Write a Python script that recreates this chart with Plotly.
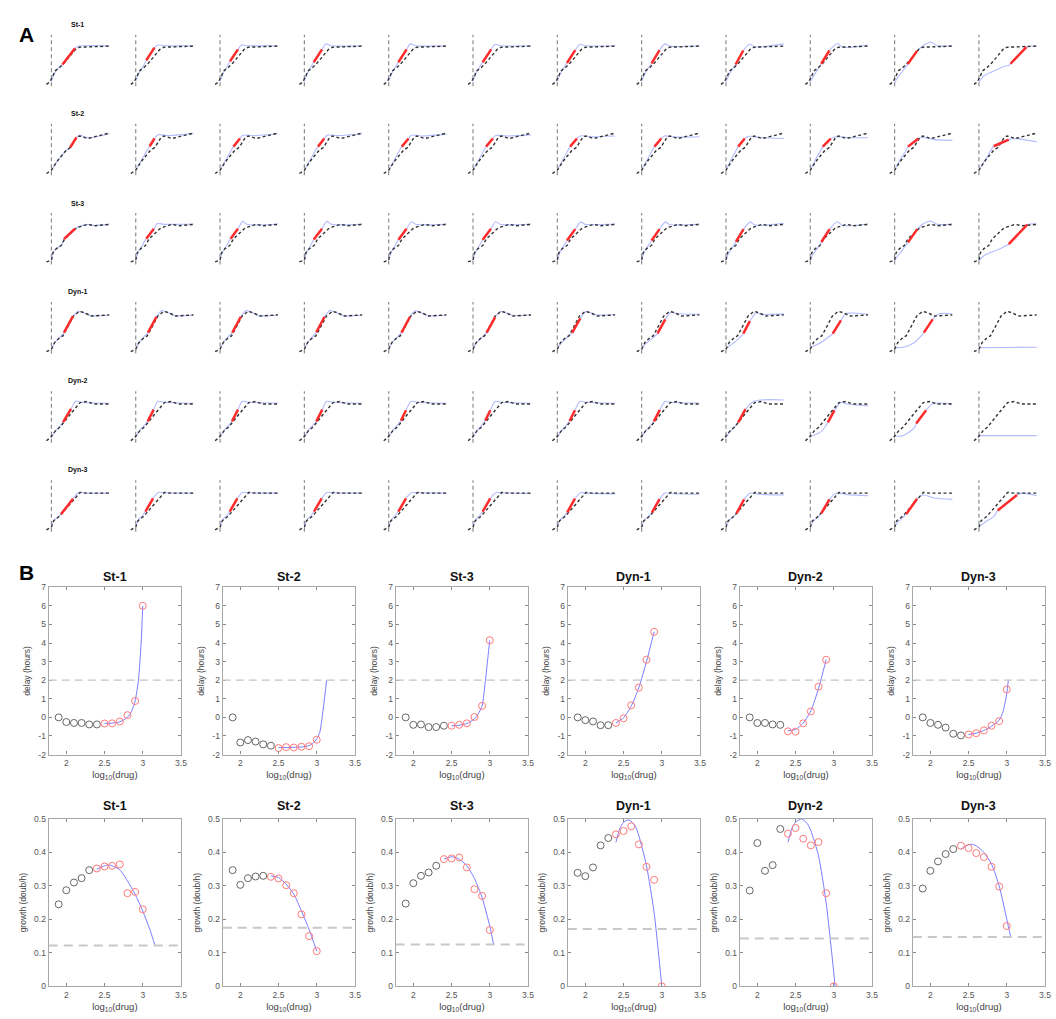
import plotly.graph_objects as go

W, H = 1056, 1019
FONT = "Liberation Sans, Arial, Helvetica, sans-serif"

# ---------------- Panel A data ----------------
ROW_NAMES = ["St-1", "St-2", "St-3", "Dyn-1", "Dyn-2", "Dyn-3"]

# measured (dashed) curves, one per strain: [t, y] points
REF = {
    "St-1": [[-1.75, -0.05], [-0.6, 0.01], [0.55, 0.18], [1.15, 0.31], [2.9, 0.41], [4.05, 0.49],
             [8.5, 0.9], [9.9, 0.96], [20.4, 0.99]],
    "St-2": [[-1.75, -0.05], [0, 0.04], [1.15, 0.18], [2.3, 0.31], [5.2, 0.58], [6.75, 0.66],
             [8.9, 0.93], [9.9, 0.97], [12.8, 0.9], [20.4, 1.05]],
    "St-3": [[-1.75, -0.03], [0, 0.02], [0.55, 0.22], [1.75, 0.33], [3.5, 0.42], [4.65, 0.59],
             [8.5, 0.87], [9.9, 0.92], [12.8, 0.99], [15.1, 0.95], [20.4, 0.99]],
    "Dyn-1": [[-1.75, -0.05], [0, 0.02], [1.15, 0.2], [2.9, 0.33], [4.05, 0.38], [4.65, 0.47],
              [7.8, 0.92], [9.9, 1.05], [11.6, 1.01], [14, 0.92], [20.4, 0.95]],
    "Dyn-2": [[-1.75, -0.05], [-0.35, 0.04], [1.4, 0.22], [3.1, 0.33], [6.5, 0.66], [10.1, 0.99],
              [12.5, 1.02], [14.8, 0.95], [20.4, 0.95]],
    "Dyn-3": [[-1.75, -0.05], [0, 0.03], [0.8, 0.2], [2.5, 0.3], [3.7, 0.4], [7, 0.7], [10.1, 0.97],
              [12.5, 0.95], [20.4, 0.95]],
}

# model (blue) curves, 12 drug levels per strain
BLUE = {
    "St-1": [
        [[0, 0.03], [1, 0.24], [2.5, 0.4], [3.9, 0.49], [8.3, 0.93], [9.5, 0.99], [11, 1.0], [20.4, 1.0]],
        [[0, 0.03], [1, 0.24], [2.5, 0.42], [3.7, 0.6], [6.6, 0.95], [8, 1.02], [10, 1.0], [20.4, 1.0]],
        [[0, 0.03], [1, 0.24], [2.4, 0.42], [3.5, 0.58], [6.3, 0.9], [7.5, 1.02], [9.5, 1.0], [20.4, 1.0]],
        [[0, 0.03], [1, 0.24], [2.3, 0.42], [3.3, 0.55], [6.2, 0.9], [7.5, 1.05], [9.5, 1.0], [20.4, 1.0]],
        [[0, 0.03], [1, 0.24], [2.3, 0.42], [3.4, 0.55], [6.3, 0.9], [7.6, 1.05], [9.5, 1.0], [20.4, 1.0]],
        [[0, 0.03], [1, 0.24], [2.3, 0.42], [3.4, 0.55], [6.4, 0.9], [7.8, 1.04], [9.6, 1.0], [20.4, 1.0]],
        [[0, 0.03], [1, 0.23], [2.3, 0.41], [3.4, 0.53], [6.3, 0.88], [8, 1.04], [9.8, 1.0], [20.4, 1.0]],
        [[0, 0.03], [1, 0.22], [2.4, 0.4], [3.5, 0.52], [6.3, 0.88], [8.2, 1.05], [10, 0.99], [20.4, 1.0]],
        [[0, 0.03], [1, 0.2], [2.3, 0.37], [3.4, 0.49], [6.1, 0.87], [8.4, 1.04], [10, 0.97], [20.4, 1.05]],
        [[0, 0.02], [1.2, 0.18], [2.7, 0.37], [3.85, 0.51], [6.75, 0.87], [9.6, 1.06], [11.3, 0.96], [20.4, 1.02]],
        [[0, 0.0], [1.5, 0.18], [3, 0.33], [4.65, 0.5], [7.9, 0.86], [10, 1.0], [12.8, 1.1], [15, 1.0], [20.4, 1.0]],
        [[0, 0.0], [1.75, 0.18], [5.2, 0.31], [9.3, 0.45], [10.5, 0.46], [11.1, 0.51], [16.7, 0.96], [20.4, 1.0]],
    ],
    "St-2": [
        [[0, 0.04], [1.15, 0.18], [2.3, 0.31], [5.2, 0.57], [6.6, 0.66], [8.8, 0.93], [9.9, 0.99], [12.8, 0.92], [20.4, 1.03]],
        [[0, 0.04], [1.15, 0.2], [2.3, 0.35], [3.8, 0.55], [4.9, 0.69], [6.6, 0.9], [7.8, 1.0], [12, 0.98], [20.4, 1.04]],
        [[0, 0.04], [1.15, 0.2], [2.3, 0.35], [3.7, 0.55], [4.7, 0.68], [7, 0.9], [8, 0.99], [12, 0.98], [20.4, 1.03]],
        [[0, 0.04], [1.15, 0.2], [2.3, 0.35], [3.7, 0.55], [4.8, 0.68], [7, 0.9], [8, 0.99], [12, 0.98], [20.4, 1.03]],
        [[0, 0.04], [1.15, 0.2], [2.3, 0.36], [3.6, 0.55], [4.6, 0.68], [7, 0.9], [8, 0.99], [12, 0.97], [20.4, 1.02]],
        [[0, 0.04], [1.15, 0.2], [2.3, 0.36], [3.6, 0.55], [4.6, 0.68], [7, 0.9], [8, 0.98], [12, 0.97], [20.4, 1.0]],
        [[0, 0.04], [1.15, 0.21], [2.3, 0.37], [3.5, 0.55], [4.5, 0.68], [6.9, 0.9], [8, 0.97], [12, 0.95], [20.4, 0.97]],
        [[0, 0.04], [1.15, 0.21], [2.3, 0.37], [3.5, 0.55], [4.5, 0.68], [6.9, 0.9], [8, 0.97], [12, 0.94], [20.4, 0.95]],
        [[0, 0.04], [1.15, 0.22], [2.3, 0.4], [3.2, 0.52], [4.3, 0.68], [6.6, 0.9], [8, 0.96], [12, 0.93], [20.4, 0.9]],
        [[0, 0.04], [1.15, 0.22], [2.3, 0.4], [3.3, 0.52], [4.4, 0.68], [7.2, 0.9], [9, 0.95], [13, 0.93], [20.4, 0.92]],
        [[0, 0.04], [1.2, 0.22], [2.5, 0.4], [3.6, 0.52], [4.7, 0.68], [8.4, 0.9], [10, 0.93], [14, 0.87], [20.4, 0.85]],
        [[0, 0.04], [1.4, 0.22], [2.9, 0.4], [5.2, 0.69], [10.5, 0.87], [12.5, 0.9], [20.4, 0.81]],
    ],
    "St-3": [
        [[0, 0.02], [0.55, 0.22], [1.75, 0.33], [3.5, 0.42], [4.4, 0.59], [8.3, 0.87], [9.9, 0.94], [12.8, 0.99], [15.1, 0.96], [20.4, 0.99]],
        [[0, 0.02], [0.8, 0.22], [2, 0.38], [3.7, 0.6], [6.4, 0.87], [7.6, 1.01], [10, 0.99], [20.4, 1.0]],
        [[0, 0.02], [0.8, 0.22], [2, 0.38], [3.7, 0.6], [6.3, 0.87], [8.0, 1.07], [9.5, 0.99], [20.4, 1.0]],
        [[0, 0.02], [0.8, 0.22], [2, 0.38], [3.3, 0.58], [6.2, 0.87], [7.9, 1.07], [9.5, 0.99], [20.4, 1.0]],
        [[0, 0.02], [0.8, 0.22], [2, 0.38], [3.4, 0.57], [6.3, 0.87], [8.0, 1.06], [9.6, 0.99], [20.4, 1.0]],
        [[0, 0.02], [0.8, 0.22], [2, 0.38], [3.4, 0.57], [6.3, 0.87], [8.0, 1.06], [9.6, 0.99], [20.4, 1.0]],
        [[0, 0.02], [0.8, 0.21], [2, 0.37], [3.4, 0.55], [6.3, 0.86], [8.2, 1.05], [9.8, 0.99], [20.4, 1.0]],
        [[0, 0.02], [0.8, 0.21], [2, 0.37], [3.5, 0.55], [6.3, 0.86], [8.3, 1.05], [10, 0.98], [20.4, 1.0]],
        [[0, 0.02], [0.9, 0.2], [2.2, 0.35], [3.5, 0.52], [6.2, 0.86], [8.5, 1.05], [10.2, 0.97], [20.4, 1.02]],
        [[0, 0.02], [1.0, 0.18], [2.6, 0.35], [3.9, 0.51], [6.8, 0.86], [9.6, 1.06], [11.3, 0.96], [20.4, 1.0]],
        [[0, 0.0], [1.5, 0.17], [3, 0.32], [4.7, 0.5], [8.0, 0.86], [10, 1.0], [12.6, 1.08], [15, 0.99], [20.4, 1.0]],
        [[0, 0.0], [2, 0.15], [5, 0.25], [8, 0.35], [9.8, 0.42], [10.5, 0.45], [17.0, 0.98], [20.4, 1.0]],
    ],
    "Dyn-1": [
        [[0, 0.02], [1.15, 0.2], [2.9, 0.34], [4.4, 0.47], [7.6, 0.92], [9.5, 1.05], [11.6, 1.0], [14, 0.93], [20.4, 0.95]],
        [[0, 0.02], [1.15, 0.2], [2.9, 0.36], [4.3, 0.47], [7.3, 0.9], [9.2, 1.07], [11.6, 1.0], [14, 0.93], [20.4, 0.95]],
        [[0, 0.02], [1.15, 0.2], [2.9, 0.36], [4.3, 0.47], [7.3, 0.9], [9.2, 1.07], [11.6, 1.0], [14, 0.93], [20.4, 0.95]],
        [[0, 0.02], [1.15, 0.2], [2.9, 0.36], [4.2, 0.48], [7.1, 0.9], [9.0, 1.07], [11.6, 1.0], [14, 0.93], [20.4, 0.95]],
        [[0, 0.02], [1.15, 0.19], [2.9, 0.34], [4.5, 0.47], [7.5, 0.9], [9.4, 1.06], [11.6, 1.0], [14, 0.93], [20.4, 0.95]],
        [[0, 0.02], [1.15, 0.19], [3.0, 0.33], [4.8, 0.47], [7.8, 0.89], [9.7, 1.05], [11.8, 1.0], [14, 0.94], [20.4, 0.95]],
        [[0, 0.02], [1.2, 0.18], [3.2, 0.32], [5.2, 0.46], [8.1, 0.86], [10.0, 1.04], [12, 1.0], [14, 0.95], [20.4, 0.96]],
        [[0, 0.02], [1.3, 0.16], [3.5, 0.3], [5.6, 0.45], [8.3, 0.83], [10.4, 1.03], [12.2, 0.99], [20.4, 0.97]],
        [[0, 0.03], [2, 0.15], [4.3, 0.29], [6.1, 0.44], [8.4, 0.78], [10.7, 1.01], [12, 0.97], [20.4, 0.98]],
        [[0, 0.06], [3.8, 0.2], [6.1, 0.33], [7.9, 0.44], [10.8, 0.8], [12.5, 0.98], [14, 1.0], [20.4, 0.97]],
        [[0, 0.06], [3.5, 0.08], [7, 0.2], [9.6, 0.4], [10.3, 0.47], [13.4, 0.83], [15.7, 0.98], [20.4, 0.98]],
        [[0, 0.06], [10, 0.065], [20.4, 0.07]],
    ],
    "Dyn-2": [
        [[0, 0.04], [1.4, 0.22], [3, 0.35], [4.1, 0.46], [6.9, 0.82], [8.6, 1.03], [10.5, 1.0], [20.4, 0.97]],
        [[0, 0.04], [1.4, 0.23], [3, 0.37], [4.2, 0.48], [6.3, 0.8], [7.8, 1.02], [10, 1.0], [20.4, 0.97]],
        [[0, 0.04], [1.4, 0.23], [3, 0.37], [4.2, 0.48], [6.3, 0.8], [7.8, 1.02], [10, 1.0], [20.4, 0.97]],
        [[0, 0.04], [1.4, 0.23], [3, 0.37], [4.2, 0.48], [6.3, 0.8], [7.8, 1.02], [10, 1.0], [20.4, 0.97]],
        [[0, 0.04], [1.4, 0.23], [3, 0.37], [4.3, 0.5], [6.1, 0.78], [7.8, 1.02], [10, 1.0], [20.4, 0.97]],
        [[0, 0.04], [1.4, 0.23], [3, 0.37], [4.3, 0.5], [6.1, 0.78], [7.8, 1.02], [10, 1.0], [20.4, 0.97]],
        [[0, 0.04], [1.4, 0.22], [3, 0.36], [4.3, 0.49], [6.2, 0.78], [7.9, 1.02], [10, 1.0], [20.4, 0.97]],
        [[0, 0.04], [1.4, 0.22], [3, 0.35], [4.3, 0.48], [6.4, 0.79], [8.2, 1.02], [10, 1.0], [20.4, 0.98]],
        [[0, 0.06], [1.5, 0.2], [3, 0.33], [4.3, 0.45], [6.9, 0.81], [10.1, 1.03], [20.4, 1.06]],
        [[0, 0.06], [3.8, 0.2], [5.4, 0.35], [6.2, 0.45], [8.5, 0.78], [10.8, 0.99], [13, 0.95], [20.4, 0.9]],
        [[0, 0.08], [2.9, 0.09], [7, 0.31], [7.6, 0.42], [11.1, 0.78], [13.4, 0.96], [20.4, 0.95]],
        [[0, 0.09], [10, 0.09], [20.4, 0.09]],
    ],
    "Dyn-3": [
        [[0, 0.03], [0.8, 0.2], [2.5, 0.31], [3.4, 0.38], [7.6, 0.8], [9.5, 0.97], [12, 0.95], [20.4, 0.95]],
        [[0, 0.03], [0.8, 0.21], [2.4, 0.35], [3.4, 0.45], [6.1, 0.81], [7.9, 0.97], [10, 0.96], [20.4, 0.95]],
        [[0, 0.03], [0.8, 0.21], [2.4, 0.35], [3.4, 0.45], [6.1, 0.81], [7.9, 0.97], [10, 0.96], [20.4, 0.95]],
        [[0, 0.03], [0.8, 0.21], [2.4, 0.35], [3.4, 0.45], [6.1, 0.81], [7.9, 0.97], [10, 0.96], [20.4, 0.95]],
        [[0, 0.03], [0.8, 0.21], [2.4, 0.35], [3.4, 0.45], [6.1, 0.81], [8.0, 0.96], [10, 0.96], [20.4, 0.95]],
        [[0, 0.03], [0.8, 0.21], [2.4, 0.35], [3.4, 0.45], [6.1, 0.81], [8.0, 0.96], [10, 0.96], [20.4, 0.94]],
        [[0, 0.03], [0.8, 0.2], [2.5, 0.33], [3.5, 0.43], [6.2, 0.8], [8.2, 0.96], [10, 0.95], [20.4, 0.93]],
        [[0, 0.03], [0.8, 0.2], [2.5, 0.33], [3.6, 0.42], [6.3, 0.79], [8.3, 0.96], [10, 0.94], [20.4, 0.92]],
        [[0, 0.03], [0.9, 0.19], [2.6, 0.31], [3.7, 0.4], [6.4, 0.78], [8.4, 0.95], [12, 0.92], [20.4, 0.9]],
        [[0, 0.03], [1.0, 0.18], [2.8, 0.3], [3.85, 0.4], [6.75, 0.78], [9, 0.95], [13, 0.91], [20.4, 0.88]],
        [[0, 0.03], [1.2, 0.17], [3.0, 0.29], [4.1, 0.38], [7.9, 0.8], [10, 0.9], [14, 0.82], [20.4, 0.78]],
        [[0, 0.04], [2.5, 0.18], [5.2, 0.31], [6.6, 0.48], [13.4, 0.9], [15.5, 0.95], [20.4, 0.88]],
    ],
}

# exponential-phase fits (red): [t0, y0, t1, y1]; None where no fit
RED = {
    "St-1": [[3.9, 0.49, 8.3, 0.93], [3.7, 0.6, 6.6, 0.95], [3.5, 0.58, 6.3, 0.9], [3.3, 0.55, 6.2, 0.9],
             [3.4, 0.55, 6.3, 0.9], [3.4, 0.55, 6.4, 0.9], [3.4, 0.53, 6.3, 0.88], [3.5, 0.52, 6.3, 0.88],
             [3.4, 0.49, 6.1, 0.87], [3.85, 0.51, 6.75, 0.87], [4.65, 0.5, 7.9, 0.86], [11.1, 0.51, 16.7, 0.96]],
    "St-2": [[6.6, 0.66, 8.8, 0.93], [4.9, 0.69, 6.6, 0.9], [4.7, 0.68, 7, 0.9], [4.8, 0.68, 7, 0.9],
             [4.6, 0.68, 7, 0.9], [4.6, 0.68, 7, 0.9], [4.5, 0.68, 6.9, 0.9], [4.5, 0.68, 6.9, 0.9],
             [4.3, 0.68, 6.6, 0.9], [4.4, 0.68, 7.2, 0.9], [4.7, 0.68, 8.4, 0.9], [5.2, 0.69, 10.5, 0.87]],
    "St-3": [[4.4, 0.59, 8.3, 0.87], [3.7, 0.6, 6.4, 0.87], [3.7, 0.6, 6.3, 0.87], [3.3, 0.58, 6.2, 0.87],
             [3.4, 0.57, 6.3, 0.87], [3.4, 0.57, 6.3, 0.87], [3.4, 0.55, 6.3, 0.86], [3.5, 0.55, 6.3, 0.86],
             [3.5, 0.52, 6.2, 0.86], [3.9, 0.51, 6.8, 0.86], [4.7, 0.5, 8.0, 0.86], [10.5, 0.45, 17.0, 0.98]],
    "Dyn-1": [[4.4, 0.47, 7.6, 0.92], [4.3, 0.47, 7.3, 0.9], [4.3, 0.47, 7.3, 0.9], [4.2, 0.48, 7.1, 0.9],
              [4.5, 0.47, 7.5, 0.9], [4.8, 0.47, 7.8, 0.89], [5.2, 0.46, 8.1, 0.86], [5.6, 0.45, 8.3, 0.83],
              [6.1, 0.44, 8.4, 0.78], [7.9, 0.44, 10.8, 0.8], [10.3, 0.47, 13.4, 0.83], None],
    "Dyn-2": [[4.1, 0.46, 6.9, 0.82], [4.2, 0.48, 6.3, 0.8], [4.2, 0.48, 6.3, 0.8], [4.2, 0.48, 6.3, 0.8],
              [4.3, 0.5, 6.1, 0.78], [4.3, 0.5, 6.1, 0.78], [4.3, 0.49, 6.2, 0.78], [4.3, 0.48, 6.4, 0.79],
              [4.3, 0.45, 6.9, 0.81], [6.2, 0.45, 8.5, 0.78], [7.6, 0.42, 11.1, 0.78], None],
    "Dyn-3": [[3.4, 0.38, 7.6, 0.8], [3.4, 0.45, 6.1, 0.81], [3.4, 0.45, 6.1, 0.81], [3.4, 0.45, 6.1, 0.81],
              [3.4, 0.45, 6.1, 0.81], [3.4, 0.45, 6.1, 0.81], [3.5, 0.43, 6.2, 0.8], [3.6, 0.42, 6.3, 0.79],
              [3.7, 0.4, 6.4, 0.78], [3.85, 0.4, 6.75, 0.78], [4.1, 0.38, 7.9, 0.8], [6.6, 0.48, 13.4, 0.9]],
}

# ---------------- Panel B data ----------------
LOGDRUG = [1.9, 2.0, 2.1, 2.2, 2.3, 2.4, 2.5, 2.6, 2.7, 2.8, 2.9, 3.0]

DELAY = {
    "St-1": [0.0, -0.25, -0.3, -0.3, -0.38, -0.38, -0.33, -0.32, -0.22, 0.12, 0.88, 6.0],
    "St-2": [0.0, -1.35, -1.22, -1.3, -1.45, -1.52, -1.65, -1.6, -1.62, -1.58, -1.55, -1.2],
    "St-3": [0.0, -0.4, -0.38, -0.52, -0.52, -0.45, -0.45, -0.4, -0.32, 0.02, 0.62, 4.15],
    "Dyn-1": [0.0, -0.15, -0.22, -0.42, -0.42, -0.3, -0.05, 0.65, 1.6, 3.1, 4.6],
    "Dyn-2": [0.0, -0.3, -0.3, -0.38, -0.4, -0.75, -0.77, -0.32, 0.32, 1.65, 3.1],
    "Dyn-3": [0.0, -0.3, -0.4, -0.55, -0.88, -0.97, -0.92, -0.85, -0.7, -0.45, -0.2, 1.5],
}
DELAY_FIT_START = {"St-1": 6, "St-2": 6, "St-3": 6, "Dyn-1": 5, "Dyn-2": 5, "Dyn-3": 6}
DELAY_CURVE = {
    "St-1": [[2.5, -0.32], [2.6, -0.31], [2.7, -0.24], [2.8, 0.0], [2.85, 0.3], [2.9, 0.88], [2.944, 2.0], [2.979, 4.0], [3.0, 6.0]],
    "St-2": [[2.5, -1.63], [2.6, -1.62], [2.7, -1.61], [2.8, -1.59], [2.9, -1.52], [2.95, -1.4], [3.0, -1.15], [3.04, -0.8], [3.09, 0.64], [3.13, 2.0]],
    "St-3": [[2.5, -0.45], [2.6, -0.42], [2.7, -0.33], [2.8, -0.08], [2.85, 0.2], [2.9, 0.62], [2.944, 2.0], [2.975, 3.2], [3.0, 4.15]],
    "Dyn-1": [[2.4, -0.3], [2.5, -0.02], [2.6, 0.6], [2.7, 1.6], [2.8, 3.0], [2.9, 4.6]],
    "Dyn-2": [[2.4, -0.72], [2.5, -0.65], [2.6, -0.3], [2.7, 0.35], [2.8, 1.55], [2.9, 3.1]],
    "Dyn-3": [[2.5, -0.92], [2.6, -0.85], [2.7, -0.7], [2.8, -0.48], [2.9, -0.15], [2.95, 0.3], [3.0, 1.3], [3.02, 2.0]],
}
DELAY_LIMIT = 2.0

GROWTH = {
    "St-1": [0.245, 0.287, 0.31, 0.323, 0.347, 0.352, 0.358, 0.36, 0.364, 0.278, 0.282, 0.23],
    "St-2": [0.347, 0.303, 0.323, 0.328, 0.33, 0.327, 0.322, 0.302, 0.278, 0.215, 0.15, 0.105],
    "St-3": [0.247, 0.308, 0.33, 0.34, 0.36, 0.38, 0.382, 0.385, 0.355, 0.29, 0.27, 0.168],
    "Dyn-1": [0.339, 0.329, 0.355, 0.421, 0.443, 0.454, 0.464, 0.478, 0.424, 0.357, 0.318, 0.0],
    "Dyn-2": [0.286, 0.428, 0.345, 0.362, 0.47, 0.456, 0.473, 0.441, 0.421, 0.431, 0.278, 0.0],
    "Dyn-3": [0.292, 0.345, 0.373, 0.395, 0.41, 0.42, 0.413, 0.398, 0.386, 0.357, 0.298, 0.18],
}
GROWTH_FIT_START = 5
GROWTH_CURVE = {
    "St-1": [[2.4, 0.35], [2.5, 0.36], [2.55, 0.362], [2.6, 0.36], [2.7, 0.348], [2.8, 0.315], [2.9, 0.275], [3.0, 0.225], [3.1, 0.165], [3.16, 0.122]],
    "St-2": [[2.4, 0.33], [2.5, 0.325], [2.6, 0.305], [2.7, 0.275], [2.8, 0.225], [2.9, 0.17], [3.0, 0.105]],
    "St-3": [[2.4, 0.38], [2.5, 0.387], [2.6, 0.38], [2.7, 0.36], [2.8, 0.322], [2.9, 0.265], [3.0, 0.18], [3.05, 0.125]],
    "Dyn-1": [[2.4, 0.43], [2.45, 0.47], [2.5, 0.49], [2.57, 0.497], [2.65, 0.48], [2.7, 0.45], [2.8, 0.36], [2.9, 0.22], [3.0, 0.0]],
    "Dyn-2": [[2.4, 0.43], [2.45, 0.47], [2.5, 0.49], [2.58, 0.5], [2.65, 0.487], [2.7, 0.465], [2.8, 0.39], [2.9, 0.25], [3.0, 0.04], [3.017, 0.0]],
    "Dyn-3": [[2.4, 0.41], [2.5, 0.423], [2.55, 0.424], [2.6, 0.42], [2.7, 0.4], [2.8, 0.365], [2.9, 0.3], [3.0, 0.2], [3.05, 0.148]],
}
GROWTH_LIMIT = {"St-1": 0.122, "St-2": 0.175, "St-3": 0.125, "Dyn-1": 0.171, "Dyn-2": 0.143, "Dyn-3": 0.147}

# ---------------- build ----------------
fig = go.Figure()
shapes = []
annotations = []
layout_axes = {}
counter = [0]


def new_axes(px0, px1, py0, py1, xcfg, ycfg):
    counter[0] += 1
    n = counter[0]
    sfx = "" if n == 1 else str(n)
    xa = dict(domain=[px0 / W, px1 / W], anchor="y" + sfx)
    ya = dict(domain=[1 - py1 / H, 1 - py0 / H], anchor="x" + sfx)
    xa.update(xcfg)
    ya.update(ycfg)
    layout_axes["xaxis" + sfx] = xa
    layout_axes["yaxis" + sfx] = ya
    return "x" + sfx, "y" + sfx


def label(text, px, py, size, color="#111"):
    annotations.append(dict(text=text, x=px / W, y=1 - py / H, xref="paper", yref="paper",
                            xanchor="center", yanchor="middle", showarrow=False,
                            font=dict(family=FONT, size=size, color=color)))


hidden_x = dict(visible=False, range=[-2, 20.4], fixedrange=True)
hidden_y = dict(visible=False, range=[-0.1, 1.3], fixedrange=True)

for r, name in enumerate(ROW_NAMES):
    top = 30 + r * 90
    bot = top + 52
    for c in range(12):
        left = 46 + c * 84.8
        xr, yr = new_axes(left, left + 64, top, bot, hidden_x, hidden_y)
        shapes.append(dict(type="line", xref=xr, yref=yr + " domain", x0=0, x1=0, y0=0, y1=1,
                           line=dict(color="#8c8c8c", width=1.2, dash="4px,3px"), layer="below"))
        bl = BLUE[name][c]
        fig.add_trace(go.Scatter(x=[p[0] for p in bl], y=[p[1] for p in bl], xaxis=xr, yaxis=yr,
                                 mode="lines", line=dict(color="#b4bcff", width=1.1, shape="spline", smoothing=0.8),
                                 hoverinfo="skip"))
        rf = REF[name]
        fig.add_trace(go.Scatter(x=[p[0] for p in rf], y=[p[1] for p in rf], xaxis=xr, yaxis=yr,
                                 mode="lines", line=dict(color="#333333", width=1.4, dash="3px,2.5px"),
                                 hoverinfo="skip"))
        rd = RED[name][c]
        if rd is not None:
            fig.add_trace(go.Scatter(x=[rd[0], rd[2]], y=[rd[1], rd[3]], xaxis=xr, yaxis=yr,
                                     mode="lines", line=dict(color="#ff2a2a", width=2.5),
                                     hoverinfo="skip"))
    label("<b>" + name + "</b>", 78, top - 10, 7)

label("<b>A</b>", 27, 30, 21, "#000")
label("<b>B</b>", 27, 573, 21, "#000")

B_LEFTS = [49, 224, 398, 571, 744, 918]
B_WIDTH = 133
GRID = "#a8a8a8"
TICKF = dict(family=FONT, size=8.5, color="#555")


def bx():
    return dict(range=[1.77, 3.5], tickvals=[2, 2.5, 3, 3.5], ticktext=["2", "2.5", "3", "3.5"],
                showline=True, linecolor=GRID, linewidth=1.2, mirror="ticks", ticks="inside", ticklen=3,
                tickcolor="#888", tickfont=TICKF, showgrid=False, zeroline=False, fixedrange=True,
                title=dict(text="log<sub>10</sub>(drug)", font=dict(family=FONT, size=9.5, color="#444"), standoff=4))


def by(rng, vals, txt, lab):
    return dict(range=rng, tickvals=vals, ticktext=txt,
                showline=True, linecolor=GRID, linewidth=1.2, mirror="ticks", ticks="inside", ticklen=3,
                tickcolor="#888", tickfont=TICKF, showgrid=False, zeroline=False, fixedrange=True,
                title=dict(text=lab, font=dict(family=FONT, size=8.5, color="#444"), standoff=6))


def add_points(xr, yr, xs, ys, k):
    fig.add_trace(go.Scatter(x=xs[:k], y=ys[:k], xaxis=xr, yaxis=yr, mode="markers",
                             marker=dict(symbol="circle-open", size=7, color="#666", line=dict(width=1)),
                             hoverinfo="skip"))
    fig.add_trace(go.Scatter(x=xs[k:], y=ys[k:], xaxis=xr, yaxis=yr, mode="markers",
                             marker=dict(symbol="circle-open", size=7, color="#ff7a7a", line=dict(width=1)),
                             hoverinfo="skip"))


for i, name in enumerate(ROW_NAMES):
    left = B_LEFTS[i]
    # delay row
    xr, yr = new_axes(left, left + B_WIDTH, 588, 757, bx(),
                      by([-2, 7], list(range(-2, 8)), [str(v) for v in range(-2, 8)], "delay (hours)"))
    shapes.append(dict(type="line", xref=xr + " domain", yref=yr, x0=0, x1=1, y0=DELAY_LIMIT, y1=DELAY_LIMIT,
                       line=dict(color="#c4c4c4", width=1.3, dash="8px,5px")))
    cv = DELAY_CURVE[name]
    fig.add_trace(go.Scatter(x=[p[0] for p in cv], y=[p[1] for p in cv], xaxis=xr, yaxis=yr, mode="lines",
                             line=dict(color="#7b7bff", width=1, shape="spline", smoothing=0.6), hoverinfo="skip"))
    ys = DELAY[name]
    add_points(xr, yr, LOGDRUG[:len(ys)], ys, DELAY_FIT_START[name])
    label("<b>" + name + "</b>", left + B_WIDTH / 2, 578, 12.5)
    # growth row
    xr, yr = new_axes(left, left + B_WIDTH, 822, 991, bx(),
                      by([0, 0.5], [0, 0.1, 0.2, 0.3, 0.4, 0.5], ["0", "0.1", "0.2", "0.3", "0.4", "0.5"],
                         "growth (doub/h)"))
    gl = GROWTH_LIMIT[name]
    shapes.append(dict(type="line", xref=xr + " domain", yref=yr, x0=0, x1=1, y0=gl, y1=gl,
                       line=dict(color="#c8c8c8", width=2, dash="9px,6px")))
    cv = GROWTH_CURVE[name]
    fig.add_trace(go.Scatter(x=[p[0] for p in cv], y=[p[1] for p in cv], xaxis=xr, yaxis=yr, mode="lines",
                             line=dict(color="#7b7bff", width=1, shape="spline", smoothing=0.6), hoverinfo="skip"))
    ys = GROWTH[name]
    add_points(xr, yr, LOGDRUG[:len(ys)], ys, GROWTH_FIT_START)
    label("<b>" + name + "</b>", left + B_WIDTH / 2, 809, 12.5)

fig.update_layout(width=W, height=H, margin=dict(l=0, r=0, t=0, b=0), paper_bgcolor="white",
                  plot_bgcolor="white", showlegend=False, shapes=shapes, annotations=annotations,
                  font=dict(family=FONT), **layout_axes)
fig.write_html("out.html", config={"displayModeBar": False},
               post_script="document.body.style.margin='0px';document.body.style.overflow='hidden';")
